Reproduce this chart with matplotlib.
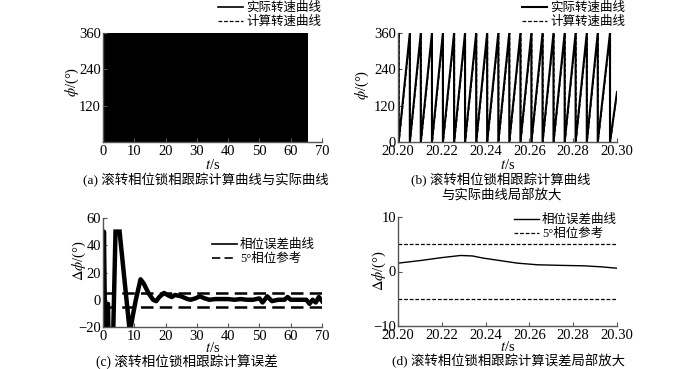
import numpy as np
import matplotlib
matplotlib.use('Agg')
import matplotlib.pyplot as plt
# ------------------------------ #

plt.rcParams['font.family'] = ['Liberation Serif', 'Noto Sans CJK SC']
plt.rcParams['mathtext.fontset'] = 'stix'
plt.rcParams['axes.unicode_minus'] = True

# (a) whole run: the sawtooth is so dense it fills the box
spanT = [0.0, 65.6]
spanLo = [0, 0]
spanHi = [360, 360]

# (b) zoomed sawtooth, times where the phase wraps 360 -> 0
wrapActual = [20.2003, 20.2054, 20.2104, 20.2155, 20.2205, 20.2256, 20.2306,
              20.2357, 20.2407, 20.2458, 20.2508, 20.2559, 20.2609, 20.2660,
              20.2710, 20.2761, 20.2811, 20.2862, 20.2912, 20.2968]
wrapCalc = [20.2005, 20.2056, 20.2106, 20.2157, 20.2207, 20.2258, 20.2308,
            20.2359, 20.2409, 20.2460, 20.2510, 20.2561, 20.2611, 20.2662,
            20.2712, 20.2763, 20.2813, 20.2864, 20.2914, 20.2970]
phiStartActual, phiEndActual = 340, 165
phiStartCalc, phiEndCalc = 345, 160

# (c) phase error over whole run (nan = clipped)
errT = [0.0, 0.3, 0.65, np.nan,
        1.0, 1.1, 1.6, 1.7, np.nan,
        3.3, 4.0, np.nan,
        5.3, 8.4, 8.9, 9.5, 10.5, 12.0, 13.0, 14.5, 16.0, 17.0, 18.0, 19.5,
        21.0, 22.0, 23.0, 24.0, 25.0, 26.0, 27.0, 28.0, 29.5, 31.0, 32.5, 34.0,
        36.0, 38.0, 40.0, 42.0, 44.0, 46.0, 48.0, 50.0, 51.0, 52.5, 54.0, 56.0,
        58.0, 59.0, 60.0, 61.0, 63.0, 65.0, 66.0, 67.0, 68.0, 69.0, 70.0]
errVal = [-20, 50, -20, np.nan,
          -20, -3, -3, -20, np.nan,
          -20, 50, np.nan,
          50, -20, -20, -12, 0, 15, 12, 5, 0, -1, 2, 5,
          3, 2, 3.5, 3, 2.5, 1.5, 0.5, 0, 1, 2.5, 1, 0,
          0.5, 0.5, 0.5, 0, 0.5, 0, 0, 1, -2, 2.5, -1, 0,
          0, 2, 0, 0, 0, 0, -3, 0, -2, 2, -1]

# (d) zoomed phase error
errZoomT = [20.200, 20.210, 20.220, 20.2286, 20.234, 20.239, 20.2546,
            20.2638, 20.275, 20.285, 20.293, 20.300]
errZoomVal = [1.53, 2.0, 2.55, 2.94, 2.85, 2.45, 1.53, 1.23, 1.12, 1.04, 0.85, 0.6]

refLevel = 5
# ------------------------------ #

W, H = 700, 369
spineColor = '#555555'


def px(x0, y0, x1, y1):
	return [x0 / W, 1 - y1 / H, (x1 - x0) / W, (y1 - y0) / H]


def styleAxes(ax):
	for side in ('top', 'right'):
		ax.spines[side].set_visible(False)
	for side in ('left', 'bottom'):
		ax.spines[side].set_color(spineColor)
		ax.spines[side].set_linewidth(1.0)
	ax.tick_params(direction='in', length=3, width=0.8, color=spineColor,
				   labelsize=10.5, pad=1.5)
	ax.tick_params(axis='x', pad=2.5)


def sawtooth(wraps, phiStart, phiEnd, tStart=20.20, tEnd=20.30):
	ts, ps = [tStart], [phiStart]
	for w in wraps:
		ts += [w, w]
		ps += [360, 0]
	ts.append(tEnd)
	ps.append(phiEnd)
	return ts, ps


def addLegend(ax, x0, y0, handles=None, labels=None):
	if handles is None:
		handles, labels = ax.get_legend_handles_labels()
	return ax.legend(handles, labels, loc='upper left',
					 bbox_to_anchor=(x0 / W, 1 - y0 / H),
					 bbox_transform=fig.transFigure, frameon=False, fontsize=9,
					 borderpad=0, borderaxespad=0, handlelength=2.0,
					 handletextpad=0.25, labelspacing=0.15)


fig = plt.figure(figsize=(7.0, 3.69), dpi=100)

axA = fig.add_axes(px(103, 33, 322, 142))
axB = fig.add_axes(px(398, 33, 617, 142))
axC = fig.add_axes(px(103, 218, 322, 327))
axD = fig.add_axes(px(398, 217, 617, 326))

# (a)
axA.fill_between(spanT, spanLo, spanHi, color='black', lw=0)
axA.plot([], [], color='black', lw=1.2, label='实际转速曲线')
axA.plot([], [], color='black', lw=0.9, ls=(0, (3, 1.5)), label='计算转速曲线')
axA.set_xlim(0, 70)
axA.set_ylim(0, 360)
axA.set_xticks(range(0, 71, 10))
axA.set_yticks([120, 240, 360])
styleAxes(axA)
axA.set_xlabel('$t$/s', fontsize=10.5, labelpad=0)
axA.set_ylabel(r'$\phi$/(°)', fontsize=10.5)
axA.yaxis.set_label_coords(-0.1, 0.55)
addLegend(axA, 218, 2)

# (b)
tAct, pAct = sawtooth(wrapActual, phiStartActual, phiEndActual)
tCal, pCal = sawtooth(wrapCalc, phiStartCalc, phiEndCalc)
axB.plot(tAct, pAct, color='black', lw=1.5, label='实际转速曲线')
axB.plot(tCal, pCal, color='black', lw=0.9, ls=(0, (3, 1.5)), label='计算转速曲线')
axB.set_xlim(20.20, 20.30)
axB.set_ylim(0, 360)
axB.set_xticks([20.20, 20.22, 20.24, 20.26, 20.28, 20.30])
axB.set_xticklabels(['20.20', '20.22', '20.24', '20.26', '20.28', '20.30'])
axB.set_yticks([0, 120, 240, 360])
styleAxes(axB)
axB.set_xlabel('$t$/s', fontsize=10.5, labelpad=0)
axB.set_ylabel(r'$\phi$/(°)', fontsize=10.5)
axB.yaxis.set_label_coords(-0.125, 0.52)
addLegend(axB, 522, 2)

# (c)
axC.plot(errT, errVal, color='black', lw=3.2, label='相位误差曲线')
axC.axhline(refLevel, color='black', lw=1.8, ls=(0, (5, 2.5)), label='5°相位参考')
axC.axhline(-refLevel, color='black', lw=1.8, ls=(0, (5, 2.5)))
axC.set_xlim(0, 70)
axC.set_ylim(-20, 60)
axC.set_xticks(range(0, 71, 10))
axC.set_yticks([-20, 0, 20, 40, 60])
styleAxes(axC)
axC.set_xlabel('$t$/s', fontsize=10.5, labelpad=-1.5)
axC.set_ylabel(r'$\Delta\phi$/(°)', fontsize=10.5)
axC.yaxis.set_label_coords(-0.07, 0.61)
legC = addLegend(axC, 212, 239)
for line in legC.get_lines():
	line.set_linewidth(1.2)

# (d)
axD.plot(errZoomT, errZoomVal, color='black', lw=1.0, label='相位误差曲线')
axD.axhline(refLevel, color='black', lw=0.9, ls=(0, (3, 1.5)), label='5°相位参考')
axD.axhline(-refLevel, color='black', lw=0.9, ls=(0, (3, 1.5)))
axD.set_xlim(20.20, 20.30)
axD.set_ylim(-10, 10)
axD.set_xticks([20.20, 20.22, 20.24, 20.26, 20.28, 20.30])
axD.set_xticklabels(['20.20', '20.22', '20.24', '20.26', '20.28', '20.30'])
axD.set_yticks([-10, 0, 10])
styleAxes(axD)
axD.set_xlabel('$t$/s', fontsize=10.5, labelpad=-1.5)
axD.set_ylabel(r'$\Delta\phi$/(°)', fontsize=10.5)
axD.yaxis.set_label_coords(-0.046, 0.51)
addLegend(axD, 514, 214)

# captions
capSize = 9.6
fig.text(206 / W, 1 - 180 / H, '(a) 滚转相位锁相跟踪计算曲线与实际曲线', ha='center', va='center', fontsize=capSize)
fig.text(501 / W, 1 - 180 / H, '(b) 滚转相位锁相跟踪计算曲线', ha='center', va='center', fontsize=capSize)
fig.text(501 / W, 1 - 196 / H, '与实际曲线局部放大', ha='center', va='center', fontsize=capSize)
fig.text(187 / W, 1 - 362 / H, '(c) 滚转相位锁相跟踪计算误差', ha='center', va='center', fontsize=9.8)
fig.text(509 / W, 1 - 361.5 / H, '(d) 滚转相位锁相跟踪计算误差局部放大', ha='center', va='center', fontsize=capSize)

fig.savefig('out.png', dpi=100)
